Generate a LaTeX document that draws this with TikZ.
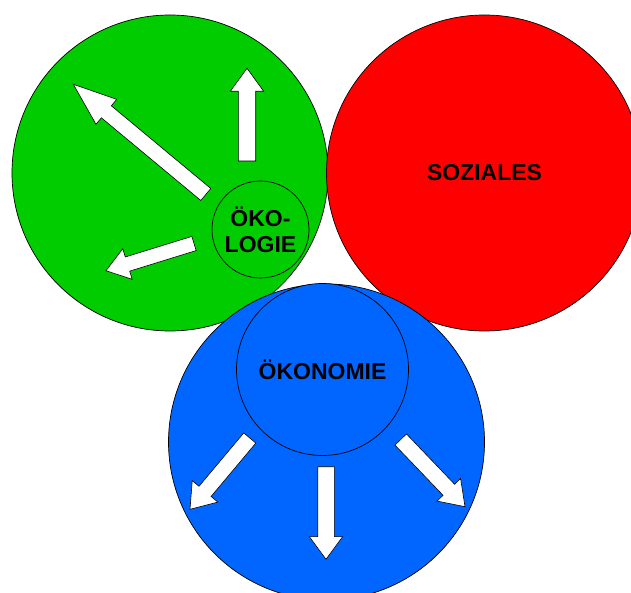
\documentclass[tikz,border=0pt]{standalone}
\usepackage{fontspec}
\setmainfont{Liberation Sans}
\usetikzlibrary{calc}
\definecolor{oekogreen}{HTML}{00CC00}
\definecolor{sozred}{HTML}{FF0000}
\definecolor{oekoblue}{HTML}{0066FF}
\tikzset{
  bigcirc/.style={circle, draw=black, line width=0.7pt, inner sep=0pt, minimum size=316pt},
  label/.style={font=\fontsize{23}{26}\selectfont\bfseries, align=center, text=black},
  barrow/.style={draw=black, fill=white, line width=0.6pt, line join=miter},
}
\newcommand\blockarrow[5]{%
  \path ($(#2)!#3!(#1)$) coordinate (bb);
  \draw[barrow] ($(#1)!#4!90:(#2)$) -- ($(bb)!#4!-90:(#1)$) -- ($(bb)!#5!-90:(#1)$) -- (#2)
     -- ($(bb)!#5!90:(#1)$) -- ($(bb)!#4!90:(#1)$) -- ($(#1)!#4!-90:(#2)$) -- cycle;}
\begin{document}
\begin{tikzpicture}[x=1pt,y=-1pt]
\useasboundingbox (0,0) rectangle (631,593);
\clip (0,0) rectangle (631,593);
\node[bigcirc, fill=oekogreen] (green) at (170,173) {};
\node[bigcirc, fill=sozred, label] (red) at (484.5,173) {SOZIALES};
\node[bigcirc, fill=oekoblue] (blue) at (326.5,442) {};
\node[circle, draw=black, line width=0.7pt, inner sep=0pt, minimum size=97pt, fill=oekogreen, label] (oeko) at (260.5,229.5) {ÖKO-\\LOGIE};
\node[circle, draw=black, line width=0.7pt, inner sep=0pt, minimum size=172pt, fill=oekoblue, label] (oekon) at (322.5,369.5) {ÖKONOMIE};
% arrows
\coordinate (t1) at (247,161);   \coordinate (p1) at (247,68.3);
\coordinate (t2) at (205.8,194.5); \coordinate (p2) at (73.3,84.3);
\coordinate (t3) at (194,243.5); \coordinate (p3) at (106,270.7);
\coordinate (t4) at (249.8,438); \coordinate (p4) at (190,509.3);
\coordinate (t5) at (326,466.7); \coordinate (p5) at (326,559.3);
\coordinate (t6) at (400.7,439.5); \coordinate (p6) at (465,506.7);
\blockarrow{t1}{p1}{23pt}{8.7pt}{16.7pt}
\blockarrow{t2}{p2}{43pt}{7.8pt}{16.2pt}
\blockarrow{t3}{p3}{22.5pt}{7.4pt}{16pt}
\blockarrow{t4}{p4}{23.4pt}{7.9pt}{16.7pt}
\blockarrow{t5}{p5}{22.7pt}{8.3pt}{16.7pt}
\blockarrow{t6}{p6}{23.4pt}{8pt}{16.3pt}
\end{tikzpicture}
\end{document}
